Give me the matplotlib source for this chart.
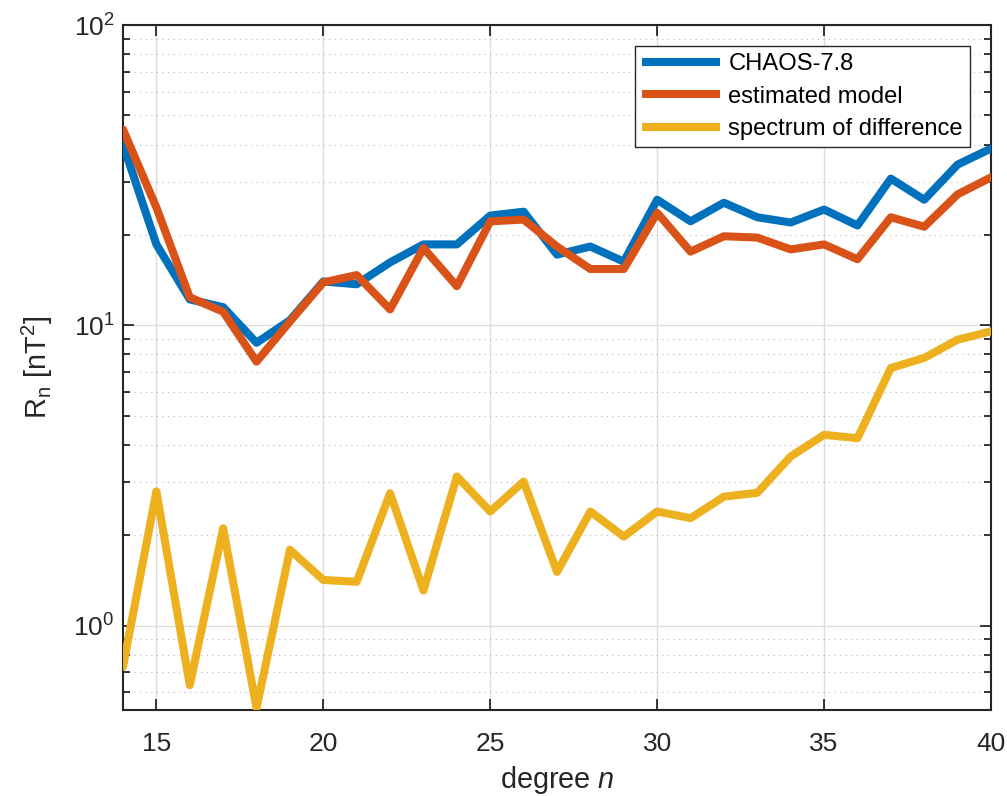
import matplotlib
matplotlib.use("Agg")
import matplotlib.pyplot as plt
import numpy as np
from matplotlib.ticker import LogLocator, NullFormatter, FixedLocator

plt.rcParams['font.family'] = ['Liberation Sans', 'DejaVu Sans']
plt.rcParams['mathtext.fontset'] = 'custom'
plt.rcParams['mathtext.rm'] = 'Liberation Sans'
plt.rcParams['mathtext.it'] = 'Liberation Sans:italic'

degree = list(range(14, 41))
chaos = [40.0, 18.6, 12.2, 11.5, 8.75, 10.4, 14.0, 13.7, 16.2, 18.6, 18.6, 23.2, 23.9,
         17.2, 18.3, 16.3, 26.2, 22.2, 25.6, 22.9, 22.0, 24.3, 21.5, 30.8, 26.2, 34.3, 38.8]
estimated = [44.9, 24.7, 12.4, 11.1, 7.57, 10.3, 13.9, 14.7, 11.3, 18.1, 13.5, 22.2, 22.5,
             18.3, 15.4, 15.4, 23.7, 17.6, 19.8, 19.6, 17.9, 18.6, 16.6, 22.9, 21.3, 27.3, 31.1]
difference = [0.73, 2.80, 0.634, 2.11, 0.532, 1.79, 1.42, 1.40, 2.76, 1.31, 3.14, 2.40, 3.02,
              1.51, 2.40, 1.98, 2.40, 2.28, 2.69, 2.77, 3.66, 4.32, 4.21, 7.21, 7.79, 8.96, 9.55]
labels = ['CHAOS-7.8', 'estimated model', 'spectrum of difference']
colors = ['#0072BD', '#D95319', '#EDB120']

fig = plt.figure(figsize=(10.07, 7.96), dpi=100)
ax = fig.add_axes([123/1007, 1-710/796, 868/1007, 685/796])

for y, lab, c in zip([chaos, estimated, difference], labels, colors):
    ax.plot(degree, y, color=c, lw=5.8, label=lab, solid_capstyle='round',
            solid_joinstyle='round', zorder=3)

ax.set_yscale('log')
ax.set_xlim(14, 40)
ax.set_ylim(0.524, 100)
ax.xaxis.set_major_locator(FixedLocator([15, 20, 25, 30, 35, 40]))
ax.yaxis.set_major_locator(LogLocator(base=10, numticks=10))
ax.yaxis.set_minor_locator(LogLocator(base=10, subs=np.arange(2, 10), numticks=20))
ax.yaxis.set_minor_formatter(NullFormatter())

ax.grid(True, which='major', color='#dedede', lw=1.0, zorder=0)
ax.grid(True, which='minor', axis='y', color='#b8b8b8', lw=0.8,
        linestyle=(0, (1, 4)), zorder=0)
ax.set_axisbelow(True)

for s in ax.spines.values():
    s.set_color('#262626')
    s.set_linewidth(1.5)
ax.tick_params(which='both', direction='in', top=True, right=True, colors='#262626',
               labelsize=19, width=1.3)
ax.tick_params(which='major', length=8)
ax.tick_params(which='minor', length=5)
ax.tick_params(axis='x', pad=16)
ax.tick_params(axis='y', pad=6)

ax.set_xlabel('degree $n$', fontsize=20.8, color='#262626')
ax.set_ylabel(r'R$_\mathregular{n}$ [nT$^\mathregular{2}$]', fontsize=20.8, color='#262626')
ax.xaxis.set_label_coords(0.5, -0.079)
ax.yaxis.set_label_coords(-0.078, 0.5)

leg = ax.legend(loc='upper right', bbox_to_anchor=(0.9758, 0.9693), borderaxespad=0,
                fontsize=17.1, fancybox=False, framealpha=1, edgecolor='#262626',
                handlelength=3.3, handletextpad=0.34, labelspacing=0.44, borderpad=0.3)
leg.get_frame().set_linewidth(1.0)
for line in leg.get_lines():
    line.set_linewidth(5.8)
    line.set_solid_capstyle('butt')

fig.savefig('out.png', dpi=100)
